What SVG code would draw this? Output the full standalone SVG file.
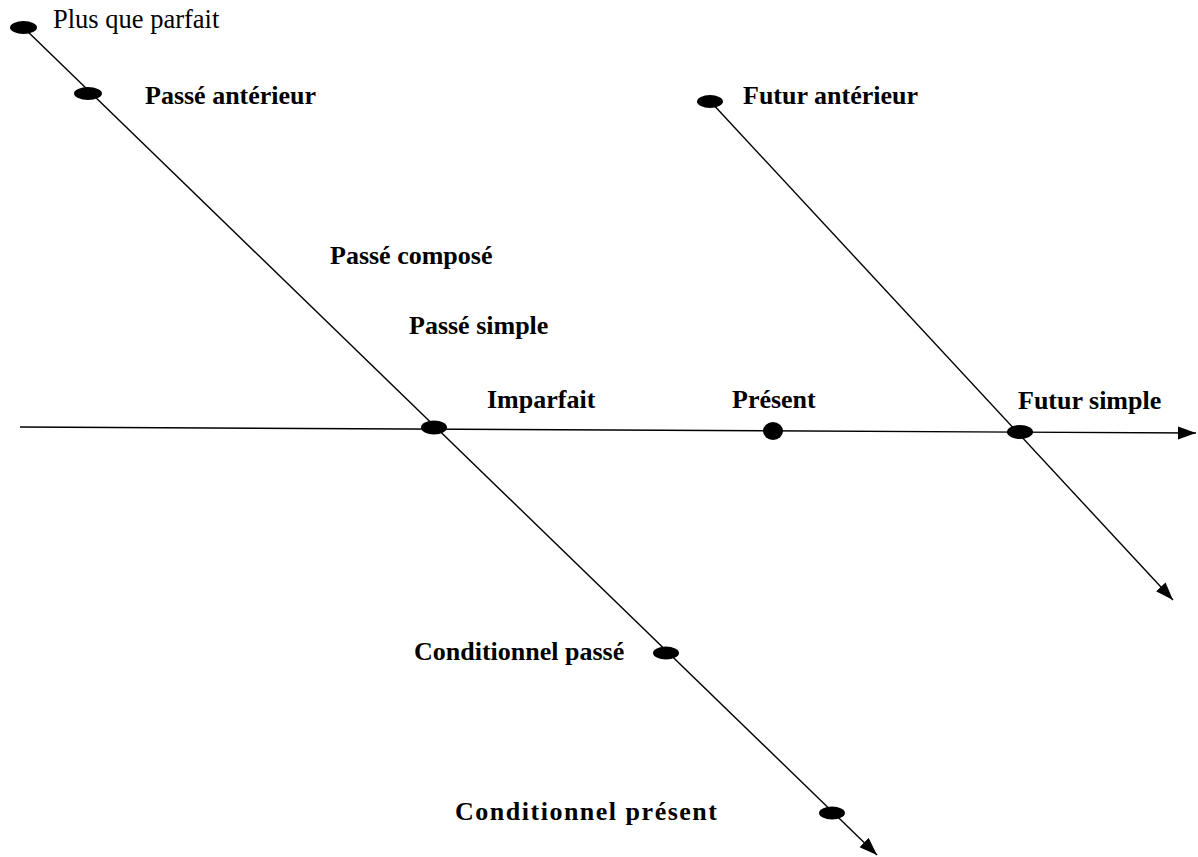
<svg xmlns="http://www.w3.org/2000/svg" width="1198" height="857" viewBox="0 0 1198 857">
  <style>
    .ln { stroke: #000; stroke-width: 1.4; fill: none; }
    .dot { fill: #000; }
    .b { font-family: "Liberation Serif", "Times New Roman", serif; font-weight: bold; font-size: 26px; fill: #000; }
    .r { font-family: "Liberation Serif", "Times New Roman", serif; font-size: 26.5px; fill: #000; }
  </style>
  <defs>
    <marker id="arr" markerUnits="userSpaceOnUse" markerWidth="20" markerHeight="14" refX="18" refY="6.5" orient="auto">
      <path d="M0,0 L18,6.5 L0,13 z" fill="#000"/>
    </marker>
  </defs>
  <rect width="1198" height="857" fill="#fff"/>
  <g id="connectors">
    <line class="ln" x1="20" y1="427" x2="1196" y2="433" marker-end="url(#arr)"/>
    <line class="ln" x1="23" y1="27" x2="877" y2="855" marker-end="url(#arr)"/>
    <line class="ln" x1="710" y1="101" x2="1173" y2="600" marker-end="url(#arr)"/>
  </g>
  <g id="plus-que-parfait">
    <ellipse class="dot" cx="23.5" cy="27.5" rx="13.5" ry="6.5"/>
    <text class="r" x="53" y="28">Plus que parfait</text>
  </g>
  <g id="passe-anterieur">
    <ellipse class="dot" cx="88" cy="93.5" rx="14" ry="6.5"/>
    <text class="b" x="145" y="104">Passé antérieur</text>
  </g>
  <g id="passe-compose">
    <text class="b" x="330" y="264">Passé composé</text>
  </g>
  <g id="passe-simple">
    <text class="b" x="409" y="334">Passé simple</text>
  </g>
  <g id="imparfait">
    <ellipse class="dot" cx="434" cy="427.5" rx="13" ry="7"/>
    <text class="b" x="487" y="408">Imparfait</text>
  </g>
  <g id="present">
    <ellipse class="dot" cx="773" cy="431" rx="10" ry="9"/>
    <text class="b" x="732" y="408">Présent</text>
  </g>
  <g id="futur-simple">
    <ellipse class="dot" cx="1020" cy="432" rx="13" ry="7"/>
    <text class="b" x="1018" y="409">Futur simple</text>
  </g>
  <g id="futur-anterieur">
    <ellipse class="dot" cx="710" cy="101.5" rx="13" ry="6.5"/>
    <text class="b" x="743" y="104">Futur antérieur</text>
  </g>
  <g id="conditionnel-passe">
    <ellipse class="dot" cx="666" cy="653" rx="13" ry="6.5"/>
    <text class="b" x="414" y="660">Conditionnel passé</text>
  </g>
  <g id="conditionnel-present">
    <ellipse class="dot" cx="832" cy="813" rx="13" ry="6.5"/>
    <text class="b" x="455" y="820" textLength="262" lengthAdjust="spacing">Conditionnel présent</text>
  </g>
</svg>
